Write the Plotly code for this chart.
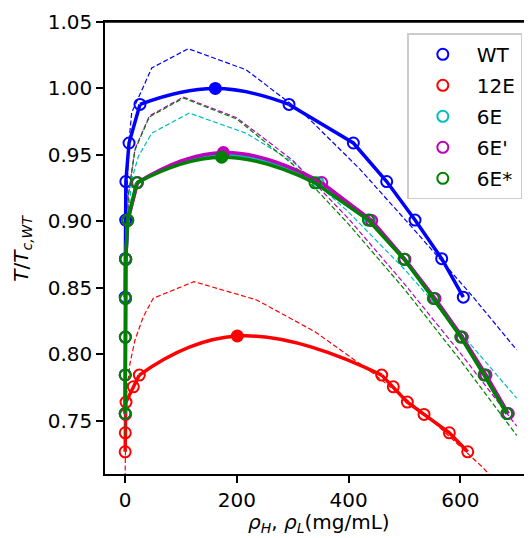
import plotly.graph_objects as go

# ---------------- data ----------------
# WT
wt_T = [0.988, 0.959, 0.930, 0.901, 0.872, 0.843]
wt_rhoL = [26.8, 7.2, 1.5, 1.2, 0.6, 0.3]
wt_rhoH = [293.5, 408.6, 468.3, 519.0, 566.7, 605.4]
wt_crit_rho, wt_crit_T = 161.6, 1.000
wt_th_rho = [0.3, 2.0, 6.0, 12.0, 24.0, 47.8, 113.3, 216.5, 320.0, 420.0, 520.0, 620.0, 701.0]
wt_th_T = [0.803, 0.900, 0.955, 0.982, 0.993, 1.0154, 1.0299, 1.0141, 0.981, 0.9395, 0.8925, 0.8446, 0.8033]

# 12E
e12_T = [0.7844, 0.7756, 0.7641, 0.7548, 0.7410, 0.7267]
e12_rhoL = [25.6, 14.9, 1.8, 1.0, 0.5, 0.3]
e12_rhoH = [459.4, 480.1, 505.2, 535.1, 580.4, 613.3]
e12_crit_rho, e12_crit_T = 201.0, 0.8138
e12_th_rho = [0.1, 0.5, 3.0, 8.9, 17.9, 32.7, 50.6, 123.5, 235.7, 340.0, 440.0, 540.0, 640.0, 700.0]
e12_th_T = [0.690, 0.720, 0.770, 0.7932, 0.8108, 0.8283, 0.8422, 0.8547, 0.8409, 0.817, 0.787, 0.754, 0.715, 0.688]

# 6E
e6_T = [0.929, 0.901, 0.8715, 0.842, 0.813, 0.7845, 0.7555]
e6_rhoL = [21.5, 4.9, 1.3, 0.9, 0.6, 0.4, 0.3]
e6_rhoH = [346.0, 438.0, 500.0, 553.0, 602.0, 644.0, 684.5]
e6_crit_rho, e6_crit_T = 175.0, 0.950
e6_th_rho = [0.2, 1.5, 5.0, 12.0, 23.8, 47.8, 115.0, 216.5, 300.0, 400.0, 500.0, 600.0, 701.0]
e6_th_T = [0.767, 0.860, 0.900, 0.9313, 0.9488, 0.9664, 0.9815, 0.9664, 0.945, 0.907, 0.864, 0.8165, 0.767]

# 6E'
e6p_T = [0.9292, 0.9006, 0.8715, 0.842, 0.813, 0.7845, 0.7555]
e6p_rhoL = [22.5, 5.0, 1.4, 0.9, 0.6, 0.4, 0.3]
e6p_rhoH = [352.0, 441.5, 501.0, 554.8, 603.6, 646.0, 686.0]
e6p_crit_rho, e6p_crit_T = 176.0, 0.9518
e6p_th_rho = [0.2, 1.5, 6.0, 17.9, 43.5, 104.3, 199.9, 300.0, 400.0, 500.0, 600.0, 701.0]
e6p_th_T = [0.746, 0.850, 0.920, 0.9545, 0.9793, 0.9935, 0.978, 0.946, 0.902, 0.853, 0.801, 0.746]

# 6E*
e6s_T = [0.929, 0.901, 0.8715, 0.842, 0.813, 0.7845, 0.7555]
e6s_rhoL = [20.9, 4.8, 1.3, 0.9, 0.6, 0.4, 0.3]
e6s_rhoH = [340.0, 435.4, 499.3, 551.7, 600.8, 642.5, 683.0]
e6s_crit_rho, e6s_crit_T = 173.0, 0.9483
e6s_th_rho = [0.2, 1.5, 6.0, 17.9, 43.5, 104.3, 199.9, 300.0, 400.0, 500.0, 600.0, 701.0]
e6s_th_T = [0.739, 0.850, 0.920, 0.9538, 0.9785, 0.9928, 0.977, 0.943, 0.898, 0.849, 0.7956, 0.739]

names = ["WT", "12E", "6E", "6E'", "6E*"]
colors = ["#0000FF", "#FF0000", "#00BFBF", "#BF00BF", "#008000"]
x_ticks = [0, 200, 400, 600]
y_ticks = [0.75, 0.80, 0.85, 0.90, 0.95, 1.00, 1.05]

series = [
    (wt_T, wt_rhoL, wt_rhoH, wt_crit_rho, wt_crit_T, wt_th_rho, wt_th_T),
    (e12_T, e12_rhoL, e12_rhoH, e12_crit_rho, e12_crit_T, e12_th_rho, e12_th_T),
    (e6_T, e6_rhoL, e6_rhoH, e6_crit_rho, e6_crit_T, e6_th_rho, e6_th_T),
    (e6p_T, e6p_rhoL, e6p_rhoH, e6p_crit_rho, e6p_crit_T, e6p_th_rho, e6p_th_T),
    (e6s_T, e6s_rhoL, e6s_rhoH, e6s_crit_rho, e6s_crit_T, e6s_th_rho, e6s_th_T),
]

FONT = "DejaVu Sans"
fig = go.Figure()

for name, c, (T, rL, rH, cr, cT, thr, thT) in zip(names, colors, series):
    g = name
    fig.add_trace(go.Scatter(x=thr, y=thT, mode="lines", legendgroup=g, showlegend=False,
                             line=dict(color=c, width=1.2, dash="5px,2.5px"), hoverinfo="skip"))
    fig.add_trace(go.Scatter(x=rL, y=T, mode="lines", legendgroup=g, showlegend=False,
                             line=dict(color=c, width=3.5)))
    fig.add_trace(go.Scatter(x=[rL[0], cr, rH[0]], y=[T[0], cT, T[0]], mode="lines",
                             legendgroup=g, showlegend=False,
                             line=dict(color=c, width=3.5, shape="spline", smoothing=1.3)))
    fig.add_trace(go.Scatter(x=rH, y=T, mode="lines", legendgroup=g, showlegend=False,
                             line=dict(color=c, width=3.5)))
    fig.add_trace(go.Scatter(x=rL + rH, y=T + T, mode="markers", name=name, legendgroup=g,
                             marker=dict(symbol="circle-open", size=11, color=c,
                                         line=dict(width=2, color=c))))
    fig.add_trace(go.Scatter(x=[cr], y=[cT], mode="markers", legendgroup=g, showlegend=False,
                             marker=dict(symbol="circle", size=13, color=c)))

axis_common = dict(showgrid=False, zeroline=False, showline=True, linecolor="black",
                   linewidth=1.6, ticks="outside", ticklen=7, tickwidth=1.6,
                   tickcolor="black", tickfont=dict(family=FONT, size=20, color="black"))

# page body has an 8px margin; the figure is sized/offset to compensate
fig.update_layout(
    width=524, height=530,
    margin=dict(l=97, r=0, t=14, b=64),
    plot_bgcolor="white", paper_bgcolor="white",
    font=dict(family=FONT, size=20, color="black"),
    xaxis=dict(range=[-35.8, 728.3], tickvals=x_ticks, ticktext=[str(v) for v in x_ticks],
               mirror=True, **axis_common),
    yaxis=dict(range=[0.71, 1.05], tickvals=y_ticks, ticktext=[f"{v:.2f}" for v in y_ticks],
               **axis_common),
    legend=dict(x=0.708, y=0.975, xanchor="left", yanchor="top",
                bgcolor="rgba(255,255,255,0.8)", bordercolor="#cccccc", borderwidth=1.5,
                font=dict(family=FONT, size=20, color="black"), tracegroupgap=2,
                itemwidth=58),
    showlegend=True,
    shapes=[dict(type="line", xref="paper", yref="paper", x0=0, x1=1, y0=1, y1=1,
                 line=dict(color="black", width=1.6), layer="above")],
    annotations=[
        dict(text="<i>ρ</i><sub><i>H</i></sub>, <i>ρ</i><sub><i>L</i></sub>(mg/mL)",
             xref="paper", yref="paper", x=0.5, y=-0.108, xanchor="center", yanchor="middle",
             showarrow=False, font=dict(family=FONT, size=20, color="black")),
        dict(text="<i>T</i>/<i>T</i><sub><i>c,WT</i></sub>", textangle=-90,
             xref="paper", yref="paper", x=-0.195, y=0.5, xanchor="center", yanchor="middle",
             showarrow=False, font=dict(family=FONT, size=20, color="black")),
    ],
)

fig.write_html("out.html")
